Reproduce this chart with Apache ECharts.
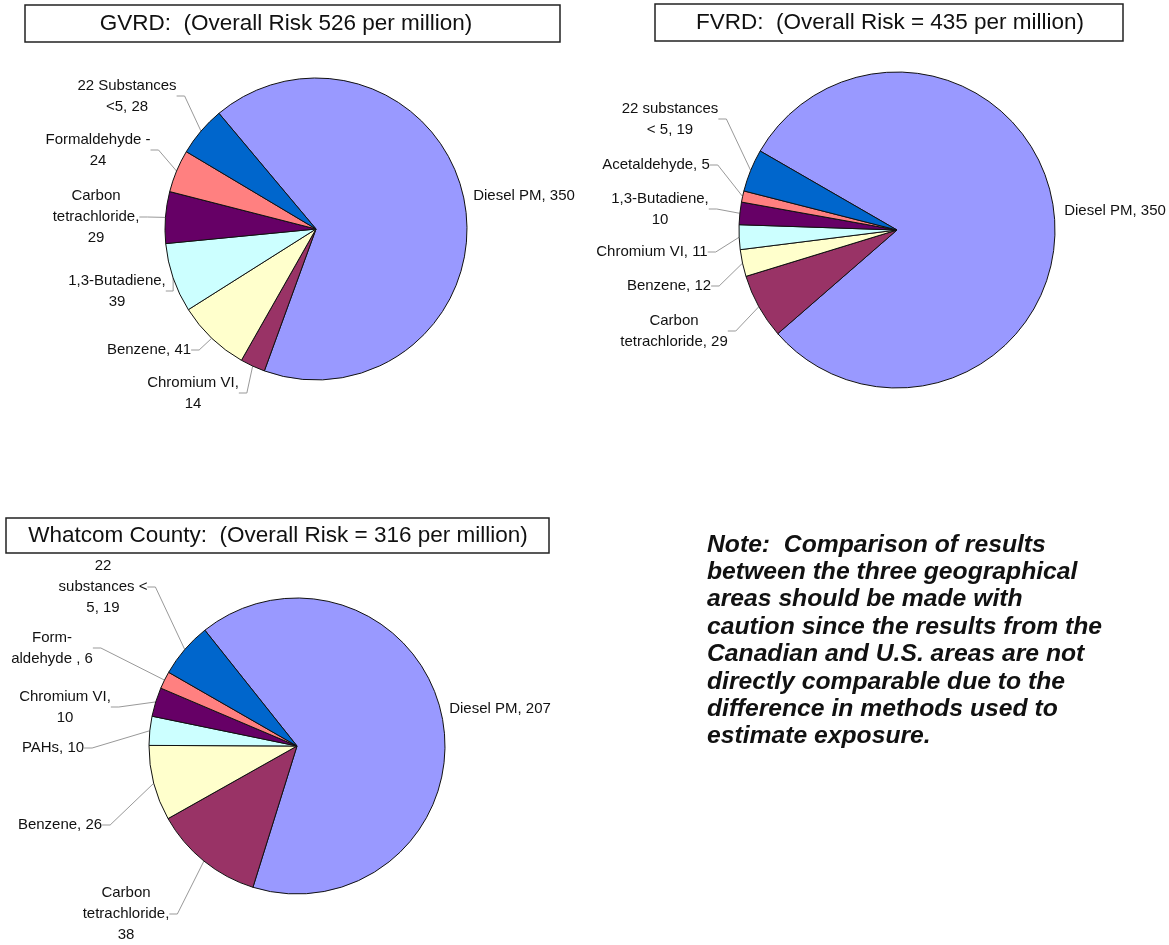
<!DOCTYPE html>
<html><head><meta charset="utf-8">
<script src="https://cdn.jsdelivr.net/npm/echarts@6/dist/echarts.min.js"></script>
<style>html,body{margin:0;padding:0;background:#fff}#c{width:1169px;height:945px}</style>
</head><body><div id="c"></div>
<script>
// ---------- DATA ----------
const gvrdCategories = ['Diesel PM', 'Chromium VI', 'Benzene', '1,3-Butadiene', 'Carbon tetrachloride', 'Formaldehyde', '22 Substances <5'];
const gvrdValues = [350, 14, 41, 39, 29, 24, 28];
const gvrdLabels = ['Diesel PM, {v}', 'Chromium VI,\n{v}', 'Benzene, {v}', '1,3-Butadiene,\n{v}', 'Carbon\ntetrachloride,\n{v}', 'Formaldehyde -\n{v}', '22 Substances\n<5, {v}'];

const fvrdCategories = ['Diesel PM', 'Carbon tetrachloride', 'Benzene', 'Chromium VI', '1,3-Butadiene', 'Acetaldehyde', '22 substances < 5'];
const fvrdValues = [350, 29, 12, 11, 10, 5, 19];
const fvrdLabels = ['Diesel PM, {v}', 'Carbon\ntetrachloride, {v}', 'Benzene, {v}', 'Chromium VI, {v}', '1,3-Butadiene,\n{v}', 'Acetaldehyde, {v}', '22 substances\n< 5, {v}'];

const whatcomCategories = ['Diesel PM', 'Carbon tetrachloride', 'Benzene', 'PAHs', 'Chromium VI', 'Formaldehyde', '22 substances < 5'];
const whatcomValues = [207, 38, 26, 10, 10, 6, 19];
const whatcomLabels = ['Diesel PM, {v}', 'Carbon\ntetrachloride,\n{v}', 'Benzene, {v}', 'PAHs, {v}', 'Chromium VI,\n{v}', 'Form-\naldehyde , {v}', '22\nsubstances <\n5, {v}'];

const chartTitles = ['GVRD:  (Overall Risk 526 per million)', 'FVRD:  (Overall Risk = 435 per million)', 'Whatcom County:  (Overall Risk = 316 per million)'];
const noteLines = ['Note:  Comparison of results', 'between the three geographical', 'areas should be made with', 'caution since the results from the', 'Canadian and U.S. areas are not', 'directly comparable due to the', 'difference in methods used to', 'estimate exposure.'];

// ---------- STYLE / LAYOUT ----------
const sliceColors = ['#9999FF', '#993366', '#FFFFCC', '#CCFFFF', '#660066', '#FF8080', '#0066CC'];
const FONT = '"Liberation Sans", Arial, sans-serif';

const pies = [
  { cats: gvrdCategories, vals: gvrdValues, labs: gvrdLabels, center: [316, 229], r: 151, start: 130,
    labelPos: [[524, 196], [193, 393], [149, 350], [117, 291], [96, 217], [98, 150], [127, 96]] },
  { cats: fvrdCategories, vals: fvrdValues, labs: fvrdLabels, center: [897, 230], r: 158, start: 150,
    labelPos: [[1115, 211], [674, 331], [669, 286], [652, 252], [660, 209], [656, 165], [670, 119]] },
  { cats: whatcomCategories, vals: whatcomValues, labs: whatcomLabels, center: [297, 746], r: 148, start: 128.5,
    labelPos: [[500, 709], [126, 914], [60, 825], [53, 748], [65, 707], [52, 648], [103, 587]] }
];
const titleBoxes = [
  { x: 25, y: 5, w: 535, h: 37, tx: 286 },
  { x: 655, y: 4, w: 468, h: 37, tx: 890 },
  { x: 6, y: 518, w: 543, h: 35, tx: 278 }
];

const series = pies.map((p, si) => ({
  type: 'pie',
  center: p.center,
  radius: p.r,
  startAngle: p.start,
  clockwise: true,
  avoidLabelOverlap: false,
  animation: false,
  emphasis: { disabled: true },
  itemStyle: { borderColor: '#111', borderWidth: 1 },
  label: {
    show: true, position: 'outside', alignTo: 'none',
    color: '#111', fontFamily: FONT, fontSize: 15, lineHeight: 21, align: 'center',
    formatter: (prm) => p.labs[prm.dataIndex].replace('{v}', prm.value)
  },
  labelLine: { show: true, length: 10, length2: 8, lineStyle: { color: '#999', width: 1 } },
  labelLayout: (prm) => {
    const pos = p.labelPos[prm.dataIndex];
    return { x: pos[0], y: pos[1], align: 'center', verticalAlign: 'middle' };
  },
  data: p.cats.map((c, i) => ({
    name: c, value: p.vals[i],
    itemStyle: { color: sliceColors[i] },
    labelLine: { show: i !== 0 }
  }))
}));

const graphics = [];
titleBoxes.forEach((b, i) => {
  graphics.push({ type: 'rect', shape: { x: b.x, y: b.y, width: b.w, height: b.h },
    style: { fill: '#fff', stroke: '#222', lineWidth: 1.5 } });
  graphics.push({ type: 'text', x: b.tx, y: b.y + b.h / 2,
    style: { text: chartTitles[i], fill: '#111', font: '22.5px ' + FONT, align: 'center', verticalAlign: 'middle' } });
});
graphics.push({ type: 'text', x: 707, y: 531,
  style: { text: noteLines.join('\n'), fill: '#111', font: 'italic bold 24.7px ' + FONT, lineHeight: 27.4, align: 'left', verticalAlign: 'top' } });

const chart = echarts.init(document.getElementById('c'), null, { renderer: 'canvas' });
chart.setOption({ backgroundColor: '#fff', animation: false, series: series, graphic: graphics });
</script></body></html>
